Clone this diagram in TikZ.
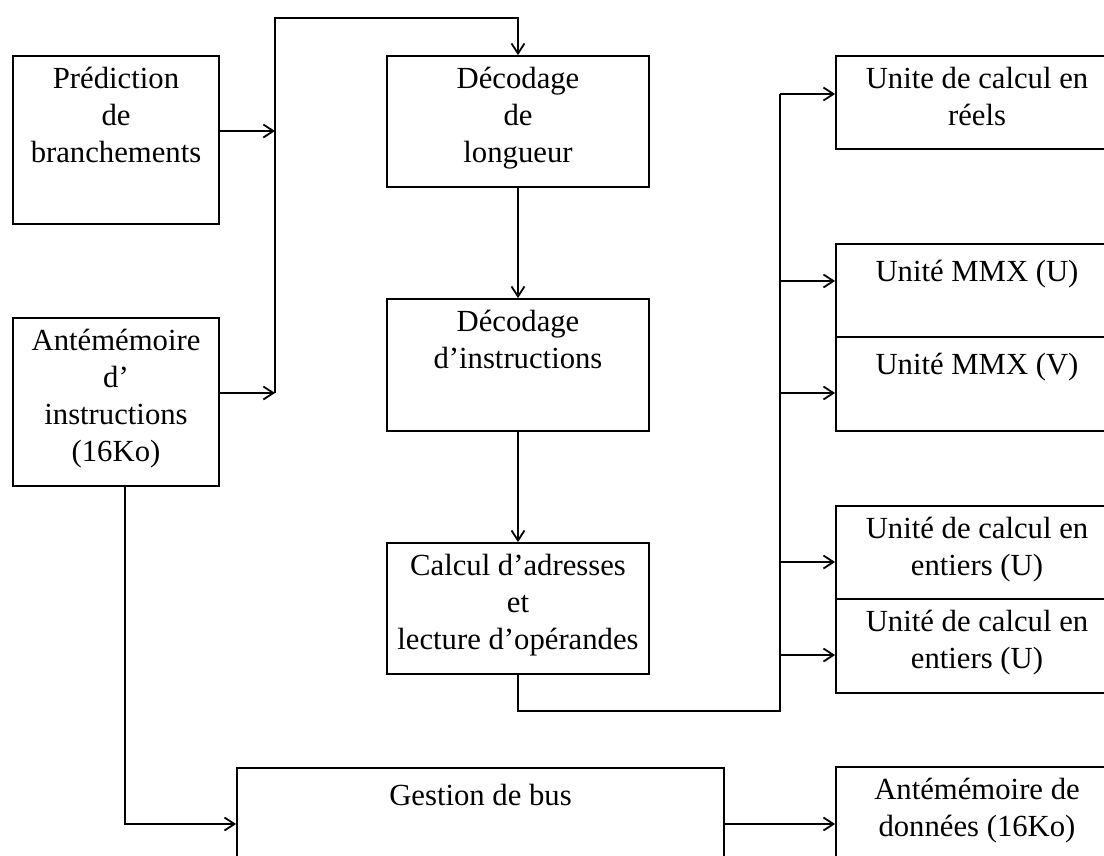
\documentclass[tikz,border=0pt]{standalone}
\usepackage{fontspec}
\setmainfont{Liberation Serif}
\usetikzlibrary{arrows.meta}
\begin{document}
\begin{tikzpicture}[x=1pt,y=-1pt,
  unit/.style={draw, line width=1.8pt, inner sep=0pt},
  caption/.style={font=\fontsize{30.7}{37}\selectfont, align=center, inner sep=0pt,
                  below=12pt, execute at begin node=\strut},
  wire/.style={line width=1.8pt},
  flow/.style={wire, -{Straight Barb[length=10pt,width=13pt]}}]
\clip (0,0) rectangle (1104,855);

% functional units (centre, size)
\node[unit, minimum width=206pt, minimum height=168pt] (pred)   at (116,140)   {};
\node[unit, minimum width=206pt, minimum height=168pt] (icache) at (116,402)   {};
\node[unit, minimum width=262pt, minimum height=131pt] (declen) at (518,121.5) {};
\node[unit, minimum width=262pt, minimum height=132pt] (decins) at (518,365)   {};
\node[unit, minimum width=262pt, minimum height=131pt] (calc)   at (518,608.5) {};
\node[unit, minimum width=282pt, minimum height=93pt]  (fpu)    at (977,102.5) {};
\node[unit, minimum width=282pt, minimum height=93pt]  (mmxu)   at (977,290.5) {};
\node[unit, minimum width=282pt, minimum height=94pt]  (mmxv)   at (977,384)   {};
\node[unit, minimum width=282pt, minimum height=93pt]  (aluu)   at (977,552.5) {};
\node[unit, minimum width=282pt, minimum height=94pt]  (aluv)   at (977,646)   {};
\node[unit, minimum width=487pt, minimum height=132pt] (bus)    at (480.5,834) {};
\node[unit, minimum width=282pt, minimum height=133pt] (dcache) at (977,833.5) {};

% captions, set from the top edge of each unit
\node[caption] (predt)   at (pred.north)   {Prédiction\\de\\branchements};
\node[caption] (icachet) at (icache.north) {Antémémoire\\d’\\instructions\\(16Ko)};
\node[caption] (declent) at (declen.north) {Décodage\\de\\longueur};
\node[caption] (decinst) at (decins.north) {Décodage\\d’instructions};
\node[caption] (calct)   at (calc.north)   {Calcul d’adresses\\et\\lecture d’opérandes};
\node[caption] (fput)    at (fpu.north)    {Unite de calcul en\\réels};
\node[caption] (mmxut)   at (mmxu.north)   {Unité MMX (U)};
\node[caption] (mmxvt)   at (mmxv.north)   {Unité MMX (V)};
\node[caption] (aluut)   at (aluu.north)   {Unité de calcul en\\entiers (U)};
\node[caption] (aluvt)   at (aluv.north)   {Unité de calcul en\\entiers (U)};
\node[caption] (bust)    at (bus.north)    {Gestion de bus};
\node[caption] (dcachet) at (dcache.north) {Antémémoire de\\données (16Ko)};

% fetch side: both sources merge into the length decoder
\coordinate (jp) at (275,131);
\coordinate (ji) at (275,393);
\coordinate (jt) at (275,18);
\draw[flow] (pred.east |- jp) -- (jp);
\draw[flow] (icache.east |- ji) -- (ji);
\draw[flow] (ji) -- (jt) -| (declen.north);

% decode pipeline
\draw[flow] (declen.south) -- (decins.north);
\draw[flow] (decins.south) -- (calc.north);

% dispatch bus to the execution units
\coordinate (eb) at (780,711);
\coordinate (e1) at (780,94);
\coordinate (e2) at (780,281);
\coordinate (e3) at (780,393);
\coordinate (e4) at (780,562);
\coordinate (e5) at (780,655);
\draw[wire] (calc.south) |- (eb) -- (e1);
\draw[flow] (e1) -- (fpu.west |- e1);
\draw[flow] (e2) -- (mmxu.west |- e2);
\draw[flow] (e3) -- (mmxv.west |- e3);
\draw[flow] (e4) -- (aluu.west |- e4);
\draw[flow] (e5) -- (aluv.west |- e5);

% memory side
\coordinate (cb) at (125,824);
\draw[flow] (icache.south -| cb) -- (cb) -- (bus.west |- cb);
\draw[flow] (bus.east |- cb) -- (dcache.west |- cb);
\end{tikzpicture}
\end{document}
